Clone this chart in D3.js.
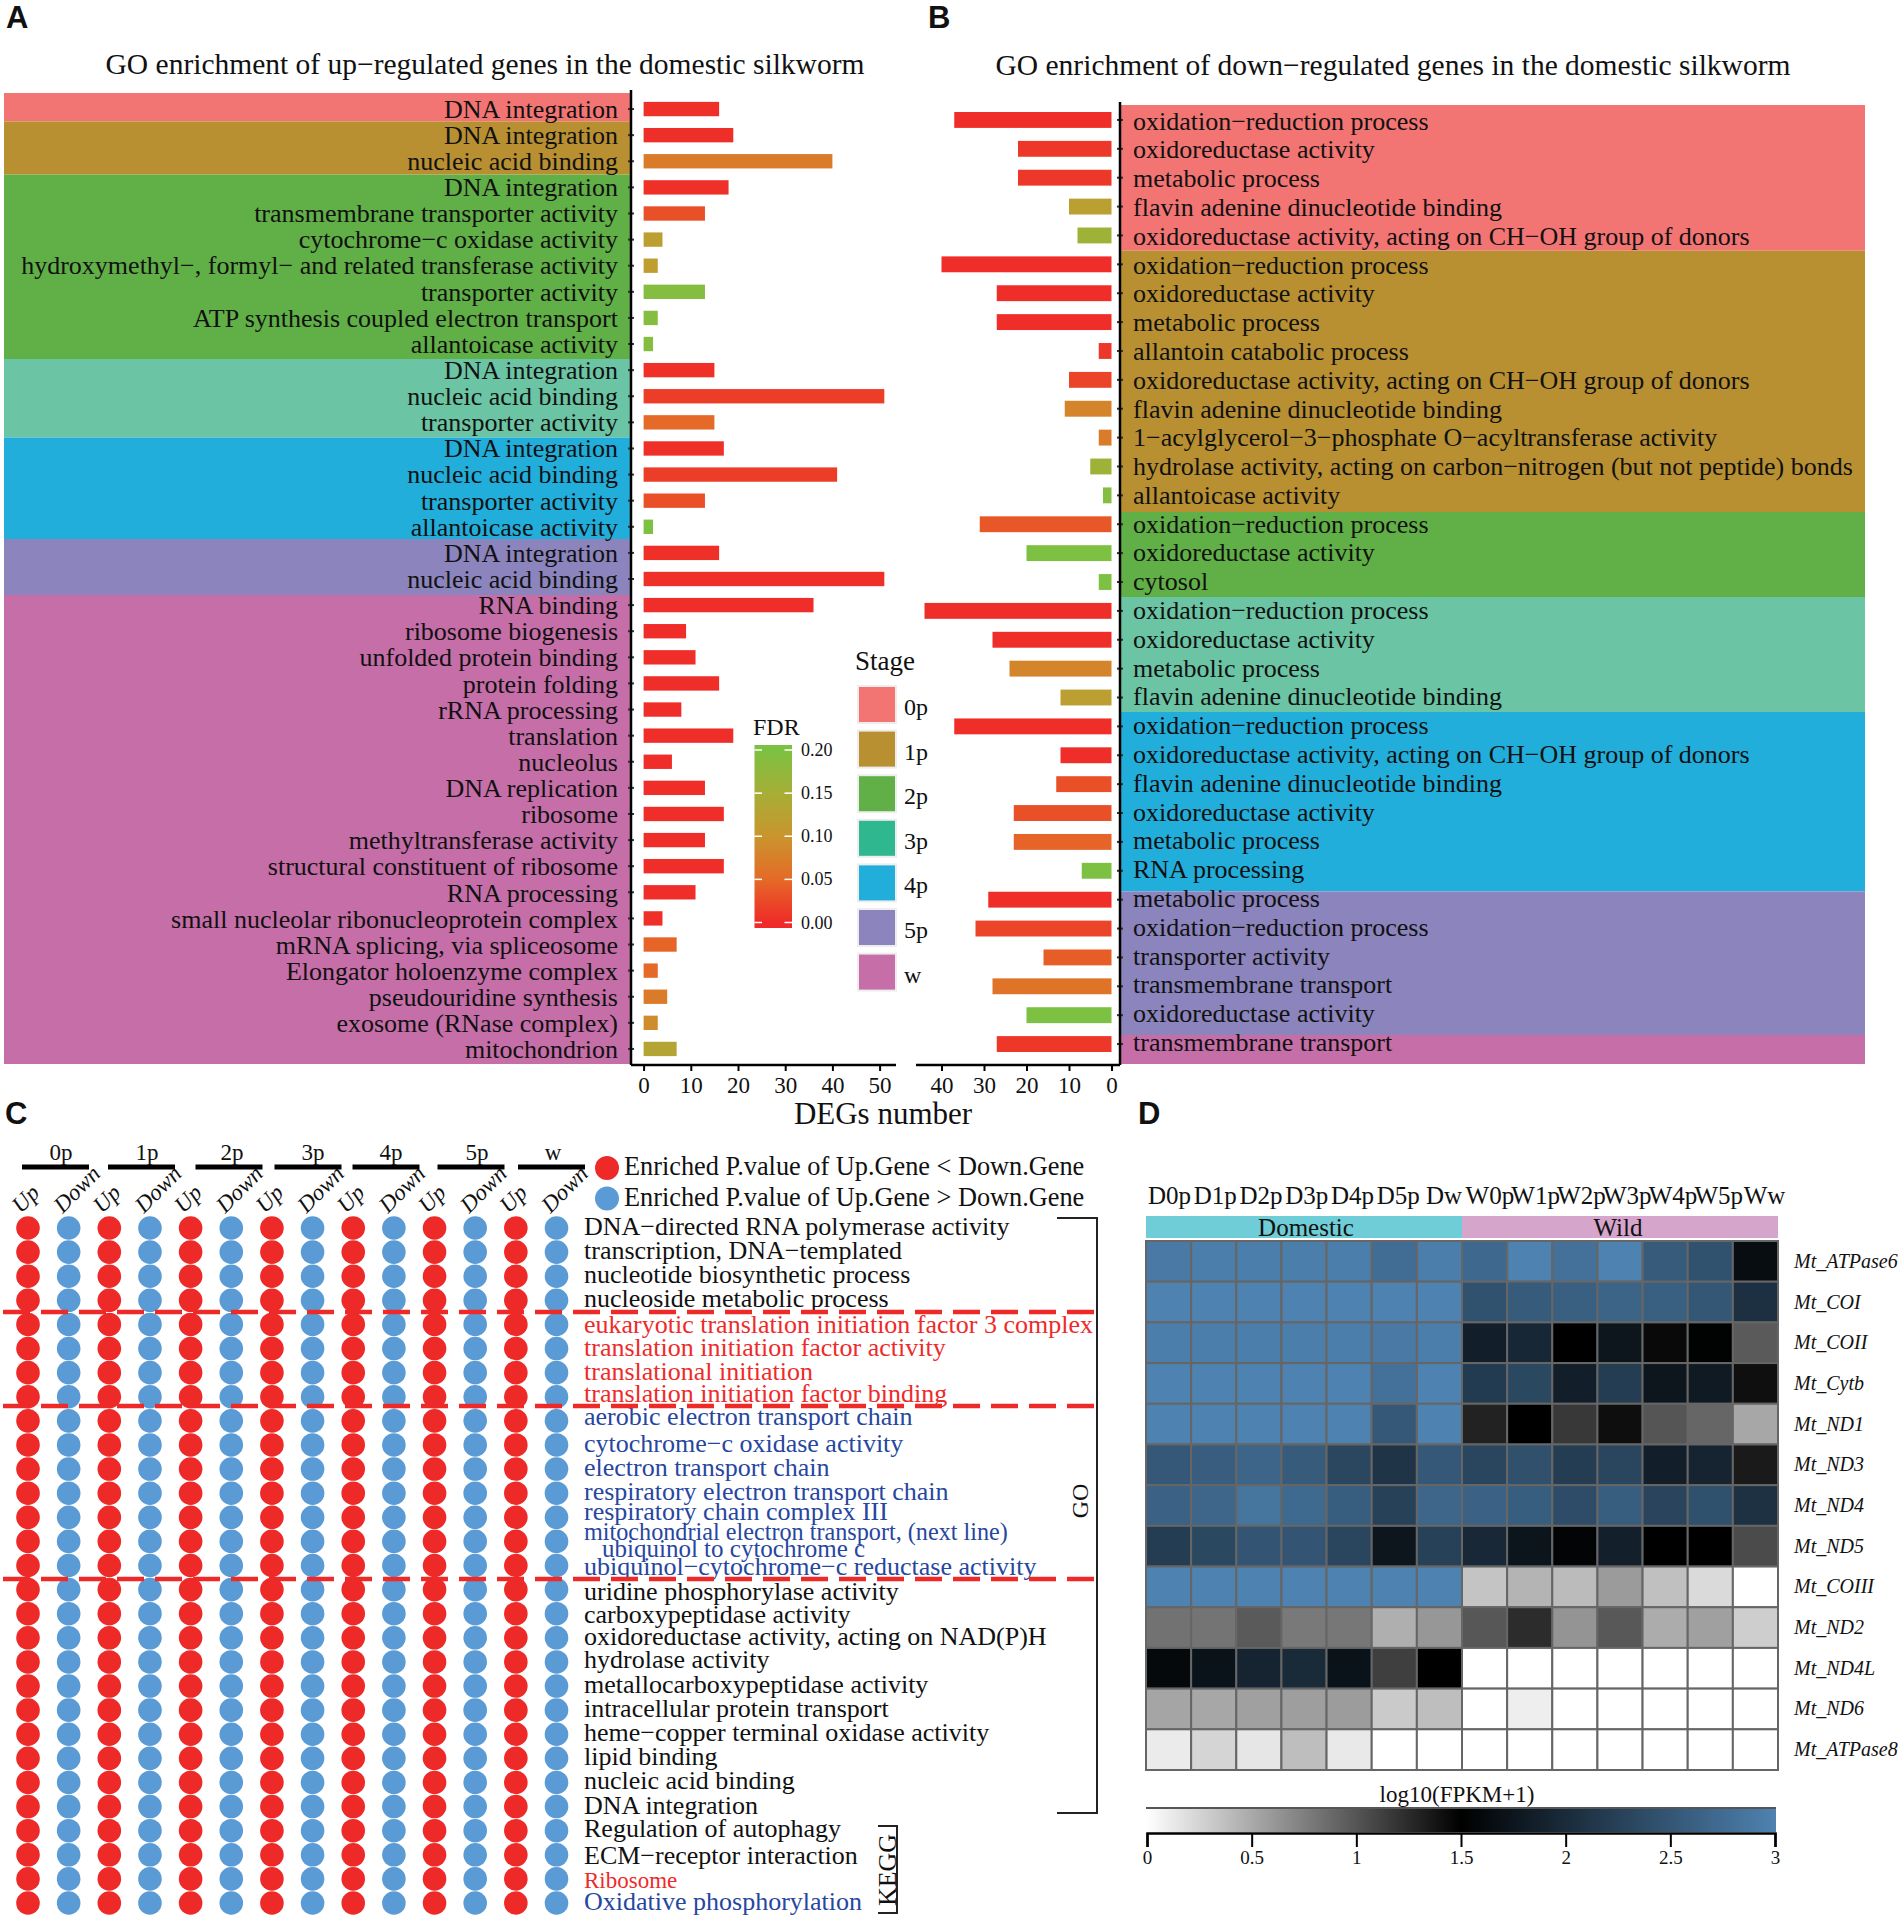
<!DOCTYPE html>
<html>
<head>
<meta charset="utf-8">
<script src="https://cdnjs.cloudflare.com/ajax/libs/d3/7.8.5/d3.min.js"></script>
<style>
  body { margin: 0; background: #fff; }
  text { font-family: "Liberation Serif", serif; fill: #111; }
  .panel { font-family: "Liberation Sans", sans-serif; font-weight: bold; font-size: 31px; }
</style>
</head>
<body>
<div id="fig"></div>
<script>
////////////////////////////////////////////////////////////////////////
// Data

let stages = ["0p", "1p", "2p", "3p", "4p", "5p", "w"];
let stageFill = ["#f27573", "#b89032", "#61af47", "#6bc5a4", "#22aedb", "#8b84bd", "#c56ea8"];
let stageKey = ["#f27573", "#b89032", "#61af47", "#2fb78f", "#22aedb", "#8b84bd", "#c56ea8"];

// Panel A, up-regulated
let upTerms = ["DNA integration", "DNA integration", "nucleic acid binding", "DNA integration",
  "transmembrane transporter activity", "cytochrome−c oxidase activity",
  "hydroxymethyl−, formyl− and related transferase activity", "transporter activity",
  "ATP synthesis coupled electron transport", "allantoicase activity", "DNA integration",
  "nucleic acid binding", "transporter activity", "DNA integration", "nucleic acid binding",
  "transporter activity", "allantoicase activity", "DNA integration", "nucleic acid binding",
  "RNA binding", "ribosome biogenesis", "unfolded protein binding", "protein folding",
  "rRNA processing", "translation", "nucleolus", "DNA replication", "ribosome",
  "methyltransferase activity", "structural constituent of ribosome", "RNA processing",
  "small nucleolar ribonucleoprotein complex", "mRNA splicing, via spliceosome",
  "Elongator holoenzyme complex", "pseudouridine synthesis", "exosome (RNase complex)",
  "mitochondrion"];
let upCounts = [16, 19,40, 18,13,4,3,13,3,2, 15,51,15, 17,41,13,2, 16,51,
  36,9,11,16,8,19,6,13,17,13,17,11,4,7,3,5,3,7];
let upFdr = [.005, .003,.07, .005,.03,.12,.115,.19,.19,.19, .005,.015,.05, .005,.015,.03,.2, .005,.005,
  .002,.002,.002,.002,.002,.002,.002,.002,.002,.002,.002,.002,.005,.045,.05,.07,.09,.13];

// Panel B, down-regulated
let downTerms = ["oxidation−reduction process", "oxidoreductase activity", "metabolic process",
  "flavin adenine dinucleotide binding", "oxidoreductase activity, acting on CH−OH group of donors",
  "oxidation−reduction process", "oxidoreductase activity", "metabolic process",
  "allantoin catabolic process", "oxidoreductase activity, acting on CH−OH group of donors",
  "flavin adenine dinucleotide binding", "1−acylglycerol−3−phosphate O−acyltransferase activity",
  "hydrolase activity, acting on carbon−nitrogen (but not peptide) bonds", "allantoicase activity",
  "oxidation−reduction process", "oxidoreductase activity", "cytosol",
  "oxidation−reduction process", "oxidoreductase activity", "metabolic process",
  "flavin adenine dinucleotide binding",
  "oxidation−reduction process", "oxidoreductase activity, acting on CH−OH group of donors",
  "flavin adenine dinucleotide binding", "oxidoreductase activity", "metabolic process",
  "RNA processing",
  "metabolic process", "oxidation−reduction process", "transporter activity",
  "transmembrane transport", "oxidoreductase activity", "transmembrane transport"];
let downCounts = [37,22,22,10,8, 40,27,27,3,10,11,3,5,2, 31,20,3, 44,28,24,12, 37,12,13,23,23,7, 29,32,16,28,20, 27];
let downFdr = [.002,.01,.01,.12,.16, .002,.002,.002,.01,.02,.08,.07,.16,.19, .035,.2,.2,
  .002,.002,.08,.12, .002,.002,.03,.03,.045,.2, .002,.02,.04,.06,.2, .01];

let countTicksUp = [0, 10, 20, 30, 40, 50];
let countTicksDown = [0, 10, 20, 30, 40];
let fdrTicks = [0, .05, .10, .15, .20];
let fdrColors = ["#ef2a29", "#e56a27", "#c9952e", "#a6ae36", "#7cc142"];

// Panel C
let dotColumns = ["Up", "Down"];
let dotColors = ["#ee2a29", "#5a9bd6"];
let dotTerms = ["DNA−directed RNA polymerase activity", "transcription, DNA−templated",
  "nucleotide biosynthetic process", "nucleoside metabolic process",
  "eukaryotic translation initiation factor 3 complex", "translation initiation factor activity",
  "translational initiation", "translation initiation factor binding",
  "aerobic electron transport chain", "cytochrome−c oxidase activity", "electron transport chain",
  "respiratory electron transport chain", "respiratory chain complex III",
  "mitochondrial electron transport, (next line)", "ubiquinol−cytochrome−c reductase activity",
  "uridine phosphorylase activity", "carboxypeptidase activity",
  "oxidoreductase activity, acting on NAD(P)H", "hydrolase activity",
  "metallocarboxypeptidase activity", "intracellular protein transport",
  "heme−copper terminal oxidase activity", "lipid binding", "nucleic acid binding", "DNA integration",
  "Regulation of autophagy", "ECM−receptor interaction", "Ribosome", "Oxidative phosphorylation"];
// 0 black, 1 red, 2 blue
let dotTermGroup = [0,0,0,0, 1,1,1,1, 2,2,2,2,2,2,2, 0,0,0,0,0,0,0,0,0,0, 0,0,1,2];
let termColors = ["#111", "#ee2a2a", "#26469f"];
let dotLegend = ["Enriched P.value of Up.Gene < Down.Gene", "Enriched P.value of Up.Gene > Down.Gene"];

// Panel D
let heatSamples = ["D0p","D1p","D2p","D3p","D4p","D5p","Dw","W0p","W1p","W2p","W3p","W4p","W5p","Ww"];
let heatGenes = ["Mt_ATPase6","Mt_COI","Mt_COII","Mt_Cytb","Mt_ND1","Mt_ND3","Mt_ND4","Mt_ND5",
  "Mt_COIII","Mt_ND2","Mt_ND4L","Mt_ND6","Mt_ATPase8"];
let heatValues = [
  [2.9,2.95,2.95,2.95,2.95,2.75,2.95, 2.7,3,2.8,3,2.55,2.45,1.65],
  [3,3,3,3,3,3,3, 2.45,2.55,2.6,2.65,2.6,2.5,2.05],
  [2.95,2.95,2.95,2.95,2.95,2.9,2.95, 1.85,1.95,1.5,1.75,1.45,1.52,.97],
  [3,3,3,3,3,2.8,3, 2.18,2.33,1.85,2.2,1.75,1.8,1.41],
  [3,3,3,3,3,2.52,3, 1.3,1.5,1.17,1.42,1.0,.9,.52],
  [2.52,2.57,2.67,2.55,2.32,2.1,2.52, 2.3,2.42,2.2,2.3,1.85,1.92,1.35],
  [2.63,2.68,2.85,2.72,2.58,2.25,2.68, 2.63,2.58,2.38,2.58,2.28,2.43,2.06],
  [2.2,2.33,2.48,2.48,2.3,1.75,2.25, 1.96,1.74,1.55,1.86,1.5,1.5,1.06],
  [3,3,3,3,3,3,3, .35,.44,.4,.59,.37,.22,0],
  [.83,.82,.97,.79,.8,.47,.61, .99,1.24,.63,.98,.49,.56,.29],
  [1.6,1.72,1.92,1.98,1.72,1.13,1.5, 0,0,0,0,0,0,0],
  [.53,.52,.56,.57,.58,.31,.38, 0,.1,0,0,0,0,0],
  [.12,.25,.15,.38,.13,0,0, 0,0,0,0,0,0,0]
];
let heatGroups = ["Domestic", "Wild"];
let heatGroupSize = [7, 7];
let heatGroupFill = ["#6fcdd7", "#d5a5cb"];
let heatTicks = [0, .5, 1, 1.5, 2, 2.5, 3];

////////////////////////////////////////////////////////////////////////
// Shared setup

let svg = d3.select("#fig").append("svg")
  .attr("width", 1899).attr("height", 1920);

let fdrColor = d3.scaleLinear().domain(fdrTicks).range(fdrColors).clamp(true);

function label(x, y, txt, size, anchor) {
  return svg.append("text")
    .attr("x", x).attr("y", y)
    .attr("dominant-baseline", "central")
    .attr("text-anchor", anchor || "start")
    .style("font-size", size + "px")
    .text(txt);
}

function line(x1, y1, x2, y2, width, color) {
  return svg.append("line")
    .attr("x1", x1).attr("y1", y1).attr("x2", x2).attr("y2", y2)
    .attr("stroke", color || "#000").attr("stroke-width", width);
}

[["A", 6, 28], ["B", 928, 28], ["C", 5, 1124], ["D", 1138, 1124]].forEach(d => {
  svg.append("text").attr("class", "panel").attr("x", d[1]).attr("y", d[2]).text(d[0]);
});

////////////////////////////////////////////////////////////////////////
// Panels A and B: bars beside stage coloured term bands

function drawBars(cfg) {
  let y = d3.scaleBand().domain(d3.range(cfg.terms.length)).range(cfg.rows);
  // the term labels drift very slightly against the bars in the figure
  let yText = d3.scaleBand().domain(d3.range(cfg.terms.length)).range(cfg.textRows);
  let g = svg.append("g");

  g.selectAll("rect.band").data(stages).enter().append("rect")
    .attr("x", cfg.bandX0)
    .attr("y", (d, i) => cfg.bandEdges[i])
    .attr("width", cfg.bandX1 - cfg.bandX0)
    .attr("height", (d, i) => cfg.bandEdges[i + 1] - cfg.bandEdges[i])
    .attr("fill", (d, i) => stageFill[i]);

  g.selectAll("rect.bar").data(cfg.counts).enter().append("rect")
    .attr("x", d => Math.min(cfg.x(0), cfg.x(d)))
    .attr("y", (d, i) => y(i) + y.bandwidth() * 0.225)
    .attr("width", d => Math.abs(cfg.x(d) - cfg.x(0)))
    .attr("height", y.bandwidth() * 0.55)
    .attr("fill", (d, i) => fdrColor(cfg.fdr[i]));

  g.selectAll("text.term").data(cfg.terms).enter().append("text")
    .attr("x", cfg.textX)
    .attr("y", (d, i) => yText(i) + yText.bandwidth() / 2)
    .attr("dominant-baseline", "central")
    .attr("text-anchor", cfg.anchor)
    .style("font-size", cfg.fontSize + "px")
    .text(d => d);

  g.selectAll("line.tick").data(cfg.terms).enter().append("line")
    .attr("x1", cfg.axisX - 3).attr("x2", cfg.axisX + 3)
    .attr("y1", (d, i) => y(i) + y.bandwidth() / 2)
    .attr("y2", (d, i) => y(i) + y.bandwidth() / 2)
    .attr("stroke", "#333").attr("stroke-width", 2);

  line(cfg.axisX, cfg.axisTop, cfg.axisX, 1065, 2.5);
  line(cfg.lineX0, 1065, cfg.lineX1, 1065, 2.5);

  let ax = svg.append("g").attr("transform", "translate(0,1065)")
    .call(d3.axisBottom(cfg.x).tickValues(cfg.ticks).tickSize(6).tickPadding(6).tickFormat(d3.format("d")));
  ax.select(".domain").remove();
  ax.selectAll("line").attr("stroke", "#000").attr("stroke-width", 2);
  ax.selectAll("text").style("font-size", "23px").style("font-family", "Liberation Serif");
}

drawBars({
  terms: upTerms, counts: upCounts, fdr: upFdr, ticks: countTicksUp, fontSize: 26,
  x: d3.scaleLinear().domain([0, 50]).range([643.6, 879.6]),
  rows: [96, 1062], textRows: [96, 1063],
  bandEdges: [93, 121.4, 174.6, 359, 437.5, 539, 595, 1064],
  bandX0: 4, bandX1: 631, textX: 618, anchor: "end",
  axisX: 631, axisTop: 90, lineX0: 631, lineX1: 896
});

drawBars({
  terms: downTerms, counts: downCounts, fdr: downFdr, ticks: countTicksDown, fontSize: 26,
  x: d3.scaleLinear().domain([0, 40]).range([1111.5, 941.5]),
  rows: [105.5, 1058.5], textRows: [106.7, 1056.8],
  bandEdges: [105, 250.7, 512, 597, 712, 891.4, 1035, 1064],
  bandX0: 1120, bandX1: 1865, textX: 1133, anchor: "start",
  axisX: 1120, axisTop: 102, lineX0: 916, lineX1: 1120
});

label(485, 64, "GO enrichment of up−regulated genes in the domestic silkworm", 29.5, "middle");
label(1393, 65, "GO enrichment of down−regulated genes in the domestic silkworm", 29.5, "middle");
label(883, 1113, "DEGs number", 31, "middle");

// Stage legend
label(855, 661, "Stage", 27);
let keyY = d3.scaleBand().domain(stages).range([683, 683 + 44.6 * 7]);
svg.selectAll("rect.key").data(stages).enter().append("rect")
  .attr("x", 858).attr("y", d => keyY(d) + 3)
  .attr("width", 38).attr("height", 37)
  .attr("fill", (d, i) => stageKey[i])
  .attr("stroke", "#ededed").attr("stroke-width", 2);
stages.forEach(s => label(904, keyY(s) + 24, s, 24));

// FDR colour bar
label(753, 727, "FDR", 24);
let fdrY = d3.scaleLinear().domain([0, .2]).range([922.5, 750]);
let grad = svg.append("defs").append("linearGradient").attr("id", "fdrGrad")
  .attr("x1", 0).attr("y1", 1).attr("x2", 0).attr("y2", 0);
fdrTicks.forEach((t, i) => {
  grad.append("stop")
    .attr("offset", (928 - fdrY(t)) / (928 - 745))
    .attr("stop-color", fdrColors[i]);
});
svg.append("rect").attr("x", 754.5).attr("y", 745).attr("width", 37.5).attr("height", 183)
  .attr("fill", "url(#fdrGrad)");
fdrTicks.forEach(t => {
  line(754.5, fdrY(t), 762, fdrY(t), 1.5, "#fff");
  line(784.5, fdrY(t), 792, fdrY(t), 1.5, "#fff");
  label(801, fdrY(t), d3.format(".2f")(t), 18);
});

////////////////////////////////////////////////////////////////////////
// Panel C: up/down dot matrix

let dotX = d3.scalePoint().domain(d3.range(14)).range([28, 556.5]);
let dotY = d3.scalePoint().domain(d3.range(29)).range([1228, 1903]);

for (let c = 0; c < 14; c++) {
  svg.append("g").selectAll("circle").data(dotTerms).enter().append("circle")
    .attr("cx", dotX(c))
    .attr("cy", (d, i) => dotY(i))
    .attr("r", 11.8)
    .attr("fill", dotColors[c % 2]);

  let lx = dotX(c) - (c % 2 ? 6 : 7);
  svg.append("text")
    .attr("transform", "translate(" + lx + ",1214) rotate(-45)")
    .style("font-size", "23px").style("font-style", "italic")
    .text(dotColumns[c % 2]);
}

// stage header bars, they do not follow the columns exactly in the figure
let headerX = [55.5, 141.5, 229, 308, 386, 471, 551.5];
let headerLabelX = [61, 147, 232, 313, 391, 477, 553];
stages.forEach((s, i) => {
  line(headerX[i] - 33.5, 1167, headerX[i] + 33.5, 1167, 5);
  label(headerLabelX[i], 1152, s, 23, "middle");
});

// term labels sit roughly on the rows, with the hand placed ones nudged as in the figure
let termNudge = {4: 2, 7: -2, 8: -3, 12: -4, 13: -8, 14: 2, 15: 3, 16: 2, 18: -1, 25: -1, 26: 2, 27: 3};
let termSize = {13: 24.2, 27: 23};
dotTerms.forEach((t, i) => {
  label(584, dotY(i) + (termNudge[i] || 0) - 1.5, t, termSize[i] || 26)
    .style("fill", termColors[dotTermGroup[i]]);
});
label(602, 1548, "ubiquinol to cytochrome c", 25).style("fill", termColors[2]);

[1312, 1406, 1579].forEach(y => {
  line(3, y, 1098, y, 4.5, "#ee2a29").attr("stroke-dasharray", "27 11");
});

// legend for the two dot colours
dotLegend.forEach((t, i) => {
  svg.append("circle").attr("cx", 607).attr("cy", 1168 + i * 30.5).attr("r", 12)
    .attr("fill", dotColors[i]);
  label(624, 1166 + i * 31, t, 26.3);
});

// GO and KEGG brackets
svg.append("path")
  .attr("d", "M1057,1218H1097V1813H1057")
  .attr("fill", "none").attr("stroke", "#222").attr("stroke-width", 2);
svg.append("text").attr("transform", "translate(1080,1501) rotate(-90)")
  .attr("text-anchor", "middle").attr("dominant-baseline", "central")
  .style("font-size", "24px").text("GO");
svg.append("path")
  .attr("d", "M878,1826H897V1913H878")
  .attr("fill", "none").attr("stroke", "#222").attr("stroke-width", 2);
svg.append("text").attr("transform", "translate(887,1870) rotate(-90)")
  .attr("text-anchor", "middle").attr("dominant-baseline", "central")
  .style("font-size", "26px").text("KEGG");

////////////////////////////////////////////////////////////////////////
// Panel D: mitochondrial gene heatmap

let heatX = d3.scaleBand().domain(heatSamples).range([1146, 1778]);
let heatY = d3.scaleBand().domain(heatGenes).range([1241, 1770]);
let heatColor = d3.scaleLinear().domain([0, 1.5, 3]).range(["#ffffff", "#000000", "#4e82b0"]);

heatValues.forEach((vals, r) => {
  svg.append("g").selectAll("rect").data(vals).enter().append("rect")
    .attr("x", (d, i) => heatX(heatSamples[i]))
    .attr("y", heatY(heatGenes[r]))
    .attr("width", heatX.bandwidth())
    .attr("height", heatY.bandwidth())
    .attr("fill", d => heatColor(d))
    .attr("stroke", "#666").attr("stroke-width", 2);
});

// the sample names are spread a little wider than the cells
let sampleX = d3.scalePoint().domain(heatSamples).range([1169.5, 1764.5]);
heatSamples.forEach(s => label(sampleX(s), 1195, s, 25, "middle"));
heatGenes.forEach(g => {
  label(1794, heatY(g) + heatY.bandwidth() / 2 - 0.5, g, 20).style("font-style", "italic");
});

// Domestic / Wild strip
let groupStart = 0;
heatGroups.forEach((g, i) => {
  let x0 = heatX(heatSamples[groupStart]);
  let w = heatX.bandwidth() * heatGroupSize[i];
  svg.append("rect").attr("x", x0).attr("y", 1216).attr("width", w).attr("height", 22)
    .attr("fill", heatGroupFill[i]);
  label(x0 + w / 2 + (i ? -2 : 2), 1227, g, 25, "middle");
  groupStart += heatGroupSize[i];
});

// colour bar with its axis
let heatAxisX = d3.scaleLinear().domain([0, 3]).range([1147, 1775]);
let heatGrad = svg.select("defs").append("linearGradient").attr("id", "heatGrad");
[0, 1.5, 3].forEach(t => {
  heatGrad.append("stop").attr("offset", t / 3).attr("stop-color", heatColor(t));
});
svg.append("rect").attr("x", 1146).attr("y", 1808).attr("width", 630).attr("height", 24)
  .attr("fill", "url(#heatGrad)");
line(1146, 1808, 1776, 1808, 2, "#555");
let heatAx = svg.append("g").attr("transform", "translate(0,1833)")
  .call(d3.axisBottom(heatAxisX).tickValues(heatTicks).tickSize(14).tickPadding(4).tickFormat(d3.format("")));
heatAx.select(".domain").attr("stroke", "#000").attr("stroke-width", 2.5);
heatAx.selectAll("line").attr("stroke", "#000").attr("stroke-width", 2);
heatAx.selectAll("text").style("font-size", "19px").style("font-family", "Liberation Serif");
label(1457, 1794, "log10(FPKM+1)", 23, "middle");
</script>
</body>
</html>
